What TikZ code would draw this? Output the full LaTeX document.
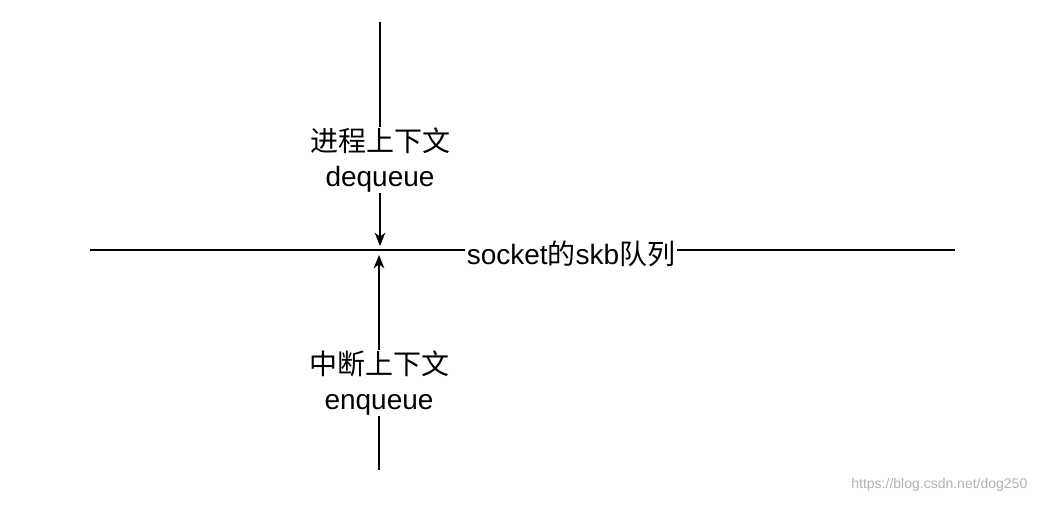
\documentclass[tikz,border=0pt]{standalone}
\usepackage{fontspec}
\setmainfont{Liberation Sans}
\newfontfamily\cjk{Noto Sans CJK SC}
\usetikzlibrary{arrows.meta}
\begin{document}
\begin{tikzpicture}[x=0.75pt,y=-0.75pt,
  lbl/.style={fill=white,inner sep=1pt,font=\fontsize{21}{26}\selectfont,align=center},
  ln/.style={line width=1pt},
  arr/.style={ln,-{Stealth[length=10pt,width=8pt,inset=3pt]}}]
\useasboundingbox (0,0) rectangle (1042,504);
\coordinate (hl) at (90,250);
\coordinate (hr) at (955,250);
\coordinate (ttop) at (380,22);
\coordinate (tend) at (380,246);
\coordinate (bbot) at (379,470);
\coordinate (bend) at (379,255);
\draw[ln] (hl) -- (hr);
\node[lbl] (q) at (571,254) {socket{\cjk 的}skb{\cjk 队列}};
\draw[arr] (ttop) -- (tend);
\draw[arr] (bbot) -- (bend);
\node[lbl] (p) at (380,160) {{\cjk 进程上下文}\\dequeue};
\node[lbl] (i) at (379,383) {{\cjk 中断上下文}\\enqueue};
\node[font=\fontsize{10.5}{12}\selectfont,text=gray!60,anchor=east] (w) at (1032,485) {https://blog.csdn.net/dog250};
\end{tikzpicture}
\end{document}
